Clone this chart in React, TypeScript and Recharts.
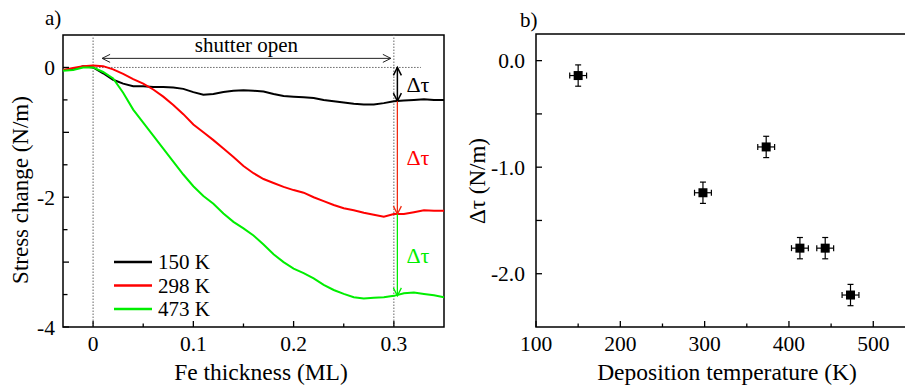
import React from 'react';
import {
  LineChart,
  Line,
  XAxis,
  YAxis,
  ReferenceLine,
  ReferenceArea,
  Legend,
  ScatterChart,
  Scatter,
  ErrorBar,
} from 'recharts';

const FONT = 'Liberation Serif';

// ---- Panel a: stress change during Fe deposition ----
const thickness = [
  -0.03, -0.02, -0.01, 0, 0.01, 0.02, 0.03, 0.04, 0.05, 0.06, 0.07, 0.08, 0.09, 0.1,
  0.11, 0.12, 0.13, 0.14, 0.15, 0.16, 0.17, 0.18, 0.19, 0.2, 0.21, 0.22, 0.23, 0.24,
  0.25, 0.26, 0.27, 0.28, 0.29, 0.3, 0.31, 0.32, 0.33, 0.34, 0.35,
];
const stress150 = [
  -0.04, -0.03, 0.02, 0, -0.09, -0.19, -0.25, -0.29, -0.29, -0.3, -0.3, -0.31, -0.33, -0.38,
  -0.42, -0.41, -0.38, -0.36, -0.35, -0.36, -0.37, -0.41, -0.44, -0.45, -0.46, -0.47, -0.5, -0.52,
  -0.54, -0.56, -0.57, -0.57, -0.55, -0.52, -0.51, -0.5, -0.49, -0.5, -0.5,
];
const stress298 = [
  -0.04, -0.01, 0.02, 0.03, 0.02, -0.03, -0.1, -0.18, -0.25, -0.34, -0.45, -0.58, -0.72, -0.88,
  -1.0, -1.12, -1.25, -1.38, -1.52, -1.63, -1.72, -1.78, -1.84, -1.89, -1.93, -2.0, -2.06, -2.12,
  -2.17, -2.2, -2.24, -2.27, -2.3, -2.26, -2.26, -2.23, -2.2, -2.21, -2.21,
];
const stress473 = [
  -0.05, -0.04, 0, 0, -0.07, -0.17, -0.39, -0.65, -0.85, -1.05, -1.25, -1.45, -1.65, -1.83,
  -1.98, -2.1, -2.25, -2.38, -2.48, -2.59, -2.73, -2.88, -3.0, -3.1, -3.17, -3.25, -3.35, -3.43,
  -3.49, -3.54, -3.56, -3.55, -3.54, -3.52, -3.48, -3.47, -3.49, -3.51, -3.54,
];
const seriesNames = ['150 K', '298 K', '473 K'];
const seriesColors = ['#000000', '#ff0000', '#00ee00'];
const thicknessTicks = [0, 0.05, 0.1, 0.15, 0.2, 0.25, 0.3];
const stressTicks = [-4, -3.5, -3, -2.5, -2, -1.5, -1, -0.5, 0];
const shutterStart = 0;
const shutterEnd = 0.3;
const shutterArrowLevel = 0.14;
const zeroGuideEnd = 0.327;

// ---- Panel b: stress jump vs deposition temperature ----
const depositionTemps = [150, 298, 373, 413, 443, 473];
const deltaTau = [-0.14, -1.24, -0.81, -1.76, -1.76, -2.2];
const tempError = 10;
const tauError = 0.1;
const tempTicks = [100, 150, 200, 250, 300, 350, 400, 450, 500];
const tauTicks = [-2, -1.5, -1, -0.5, 0];

const rowsA = thickness.map((t, i) => ({
  t,
  s150: stress150[i],
  s298: stress298[i],
  s473: stress473[i],
}));
const rowsB = depositionTemps.map((T, i) => ({
  T,
  d: deltaTau[i],
  ex: tempError,
  ey: tauError,
}));

const closeIdx = thickness.indexOf(shutterEnd);
const tauAt150 = stress150[closeIdx];
const tauAt298 = stress298[closeIdx];
const tauAt473 = stress473[closeIdx];
const deltaX = shutterEnd + 0.0035;

// Chart geometry
const A_W = 460;
const A_H = 388;
const A_LEFT = 63;
const A_TOP = 35;
const A_BOTTOM = 327;
const A_RIGHT = 444;

const B_OFFSET = 440;
const B_W = 470;
const B_H = 388;
const B_LEFT = 96;
const B_TOP = 34;
const B_BOTTOM = 327;

const chevron = (tx: number, ty: number, fx: number, fy: number, len: number, half: number) => {
  const dx = tx - fx;
  const dy = ty - fy;
  const L = Math.hypot(dx, dy) || 1;
  const ux = dx / L;
  const uy = dy / L;
  const bx = tx - ux * len;
  const by = ty - uy * len;
  const nx = -uy;
  const ny = ux;
  return `M${bx + nx * half},${by + ny * half} L${tx},${ty} L${bx - nx * half},${by - ny * half}`;
};

const makeArrow =
  (opts: { color: string; start?: boolean; end?: boolean; width?: number; label?: string; labelColor?: string; above?: boolean }) =>
  (p: any) => {
    const { x1, y1, x2, y2 } = p;
    const w = opts.width ?? 1.3;
    const midX = (x1 + x2) / 2;
    const midY = (y1 + y2) / 2;
    return (
      <g>
        <line x1={x1} y1={y1} x2={x2} y2={y2} stroke={opts.color} strokeWidth={w} />
        {opts.start && (
          <path d={chevron(x1, y1, x2, y2, 8, 4)} fill="none" stroke={opts.color} strokeWidth={w} />
        )}
        {opts.end && (
          <path d={chevron(x2, y2, x1, y1, 8, 4)} fill="none" stroke={opts.color} strokeWidth={w} />
        )}
        {opts.label && opts.above && (
          <text x={midX} y={midY - 6} textAnchor="middle" fontFamily={FONT} fontSize={21} fill="#000">
            {opts.label}
          </text>
        )}
        {opts.label && !opts.above && (
          <text
            x={x1 + 9}
            y={midY}
            dy="0.35em"
            fontFamily={FONT}
            fontSize={22}
            fill={opts.labelColor ?? opts.color}
          >
            {opts.label}
          </text>
        )}
      </g>
    );
  };

const makeXTick =
  (axisY: number, isMajor: (v: number) => boolean, fmt: (v: number) => string) => (props: any) => {
    const { x, payload } = props;
    const v = payload.value as number;
    const major = isMajor(v);
    return (
      <g>
        <line x1={x} x2={x} y1={axisY} y2={axisY - (major ? 6 : 3.5)} stroke="#000" strokeWidth={1.3} />
        {major && (
          <text x={x} y={axisY + 24} textAnchor="middle" fontFamily={FONT} fontSize={21.5} fill="#000">
            {fmt(v)}
          </text>
        )}
      </g>
    );
  };

const makeYTick =
  (axisX: number, gap: number, isMajor: (v: number) => boolean, isLabelled: (v: number) => boolean, fmt: (v: number) => string) =>
  (props: any) => {
    const { y, payload } = props;
    const v = payload.value as number;
    return (
      <g>
        <line x1={axisX} x2={axisX + (isMajor(v) ? 6 : 4.5)} y1={y} y2={y} stroke="#000" strokeWidth={1.3} />
        {isLabelled(v) && (
          <text x={axisX - gap} y={y} dy="0.35em" textAnchor="end" fontFamily={FONT} fontSize={21.5} fill="#000">
            {fmt(v)}
          </text>
        )}
      </g>
    );
  };

const near = (a: number, b: number) => Math.abs(a - b) < 1e-6;

const thicknessTick = makeXTick(
  A_BOTTOM,
  (v) => near(v * 10, Math.round(v * 10)),
  (v) => (near(v, 0) ? '0' : String(v)),
);
const stressTick = makeYTick(
  A_LEFT,
  8,
  (v) => near(v, Math.round(v)),
  (v) => near(v / 2, Math.round(v / 2)),
  (v) => String(Math.round(v)),
);
const tempTick = makeXTick(
  B_BOTTOM,
  (v) => v % 100 === 0,
  (v) => String(v),
);
const tauTick = makeYTick(
  B_LEFT,
  11,
  () => true,
  (v) => near(v, Math.round(v)),
  (v) => v.toFixed(1),
);

const renderLegend = (props: any) => {
  const payload = (props.payload || []) as any[];
  return (
    <svg width={120} height={72} style={{ display: 'block' }}>
      {payload.map((e, i) => {
        const cy = 12 + i * 23.5;
        return (
          <g key={String(e.value)}>
            <line x1={2} x2={40} y1={cy} y2={cy} stroke={e.color} strokeWidth={2.5} />
            <text x={46} y={cy} dy="0.35em" fontFamily={FONT} fontSize={21} fill="#000">
              {e.value}
            </text>
          </g>
        );
      })}
    </svg>
  );
};

const squareShape = (p: any) => (
  <rect x={p.cx - 4.5} y={p.cy - 4.5} width={9} height={9} fill="#000" />
);

const dotted = { stroke: '#666', strokeWidth: 1, strokeDasharray: '1.5 1.5' };

export default function App() {
  return (
    <div
      style={{
        position: 'absolute',
        left: 0,
        top: 0,
        width: 905,
        height: 388,
        overflow: 'hidden',
        background: '#fff',
        fontFamily: FONT,
      }}
    >
      <div style={{ position: 'absolute', left: 0, top: 0 }}>
        <LineChart
          width={A_W}
          height={A_H}
          data={rowsA}
          margin={{ top: A_TOP, right: A_W - A_RIGHT, bottom: 0, left: 0 }}
        >
          <XAxis
            dataKey="t"
            type="number"
            domain={[-0.03, 0.35]}
            allowDataOverflow
            ticks={thicknessTicks}
            interval={0}
            height={A_H - A_BOTTOM}
            axisLine={false}
            tickLine={false}
            tick={thicknessTick}
            label={() => (
              <text x={261} y={380} textAnchor="middle" fontFamily={FONT} fontSize={23.5} fill="#000">
                Fe thickness (ML)
              </text>
            )}
          />
          <YAxis
            type="number"
            domain={[-4, 0.5]}
            allowDataOverflow
            ticks={stressTicks}
            interval={0}
            width={A_LEFT}
            axisLine={false}
            tickLine={false}
            tick={stressTick}
            label={() => (
              <g>
                <text x={45} y={25} fontFamily={FONT} fontSize={21} fill="#000">
                  a)
                </text>
                <text
                  x={28}
                  y={190}
                  transform="rotate(-90 28 190)"
                  textAnchor="middle"
                  fontFamily={FONT}
                  fontSize={23}
                  fill="#000"
                >
                  Stress change (N/m)
                </text>
              </g>
            )}
          />
          <ReferenceLine x={shutterStart} {...dotted} />
          <ReferenceLine x={shutterEnd} {...dotted} />
          <ReferenceLine
            segment={[
              { x: shutterStart, y: 0 },
              { x: zeroGuideEnd, y: 0 },
            ]}
            {...dotted}
          />
          <Line
            dataKey="s150"
            name={seriesNames[0]}
            stroke={seriesColors[0]}
            strokeWidth={2}
            dot={false}
            activeDot={false}
            isAnimationActive={false}
          />
          <Line
            dataKey="s298"
            name={seriesNames[1]}
            stroke={seriesColors[1]}
            strokeWidth={2}
            dot={false}
            activeDot={false}
            isAnimationActive={false}
          />
          <Line
            dataKey="s473"
            name={seriesNames[2]}
            stroke={seriesColors[2]}
            strokeWidth={2}
            dot={false}
            activeDot={false}
            isAnimationActive={false}
          />
          <ReferenceLine
            segment={[
              { x: shutterStart + 0.009, y: shutterArrowLevel },
              { x: shutterEnd - 0.003, y: shutterArrowLevel },
            ]}
            shape={makeArrow({ color: '#222', start: true, end: true, width: 1, label: 'shutter open', above: true })}
          />
          <ReferenceLine
            segment={[
              { x: deltaX, y: 0 },
              { x: deltaX, y: tauAt150 },
            ]}
            shape={makeArrow({ color: '#000', start: true, end: true, width: 1.5, label: 'Δτ' })}
          />
          <ReferenceLine
            segment={[
              { x: deltaX, y: tauAt150 },
              { x: deltaX, y: tauAt298 },
            ]}
            shape={makeArrow({ color: '#f02a10', end: true, width: 1.3, label: 'Δτ', labelColor: '#ff0000' })}
          />
          <ReferenceLine
            segment={[
              { x: deltaX, y: tauAt298 },
              { x: deltaX, y: tauAt473 },
            ]}
            shape={makeArrow({ color: '#00ee00', end: true, width: 1.3, label: 'Δτ' })}
          />
          <ReferenceArea
            x1={-0.03}
            x2={0.35}
            y1={-4}
            y2={0.5}
            fill="none"
            fillOpacity={0}
            stroke="#000"
            strokeWidth={1.5}
          />
          <Legend
            layout="vertical"
            align="center"
            verticalAlign="middle"
            content={renderLegend}
            wrapperStyle={{ left: 112, top: 250, width: 120, height: 72 }}
          />
        </LineChart>
      </div>

      <div style={{ position: 'absolute', left: B_OFFSET, top: 0 }}>
        <ScatterChart
          width={B_W}
          height={B_H}
          margin={{ top: B_TOP, right: 3, bottom: 0, left: 0 }}
        >
          <XAxis
            dataKey="T"
            type="number"
            domain={[100, 540]}
            allowDataOverflow
            ticks={tempTicks}
            interval={0}
            height={B_H - B_BOTTOM}
            axisLine={false}
            tickLine={false}
            tick={tempTick}
            label={() => (
              <text x={287} y={380} textAnchor="middle" fontFamily={FONT} fontSize={23.5} fill="#000">
                Deposition temperature (K)
              </text>
            )}
          />
          <YAxis
            dataKey="d"
            type="number"
            domain={[-2.5, 0.25]}
            allowDataOverflow
            ticks={tauTicks}
            interval={0}
            width={B_LEFT}
            axisLine={false}
            tickLine={false}
            tick={tauTick}
            label={() => (
              <g>
                <text x={80} y={27} fontFamily={FONT} fontSize={21} fill="#000">
                  b)
                </text>
                <text
                  x={45}
                  y={181}
                  transform="rotate(-90 45 181)"
                  textAnchor="middle"
                  fontFamily={FONT}
                  fontSize={23}
                  fill="#000"
                >
                  Δτ (N/m)
                </text>
              </g>
            )}
          />
          <ReferenceArea
            x1={100}
            x2={540}
            y1={-2.5}
            y2={0.25}
            fill="none"
            fillOpacity={0}
            stroke="#000"
            strokeWidth={1.5}
          />
          <Scatter data={rowsB} fill="#000" shape={squareShape} isAnimationActive={false}>
            <ErrorBar dataKey="ey" direction="y" width={3} stroke="#000" strokeWidth={1.2} isAnimationActive={false} />
            <ErrorBar dataKey="ex" direction="x" width={3} stroke="#000" strokeWidth={1.2} isAnimationActive={false} />
          </Scatter>
        </ScatterChart>
      </div>
    </div>
  );
}
